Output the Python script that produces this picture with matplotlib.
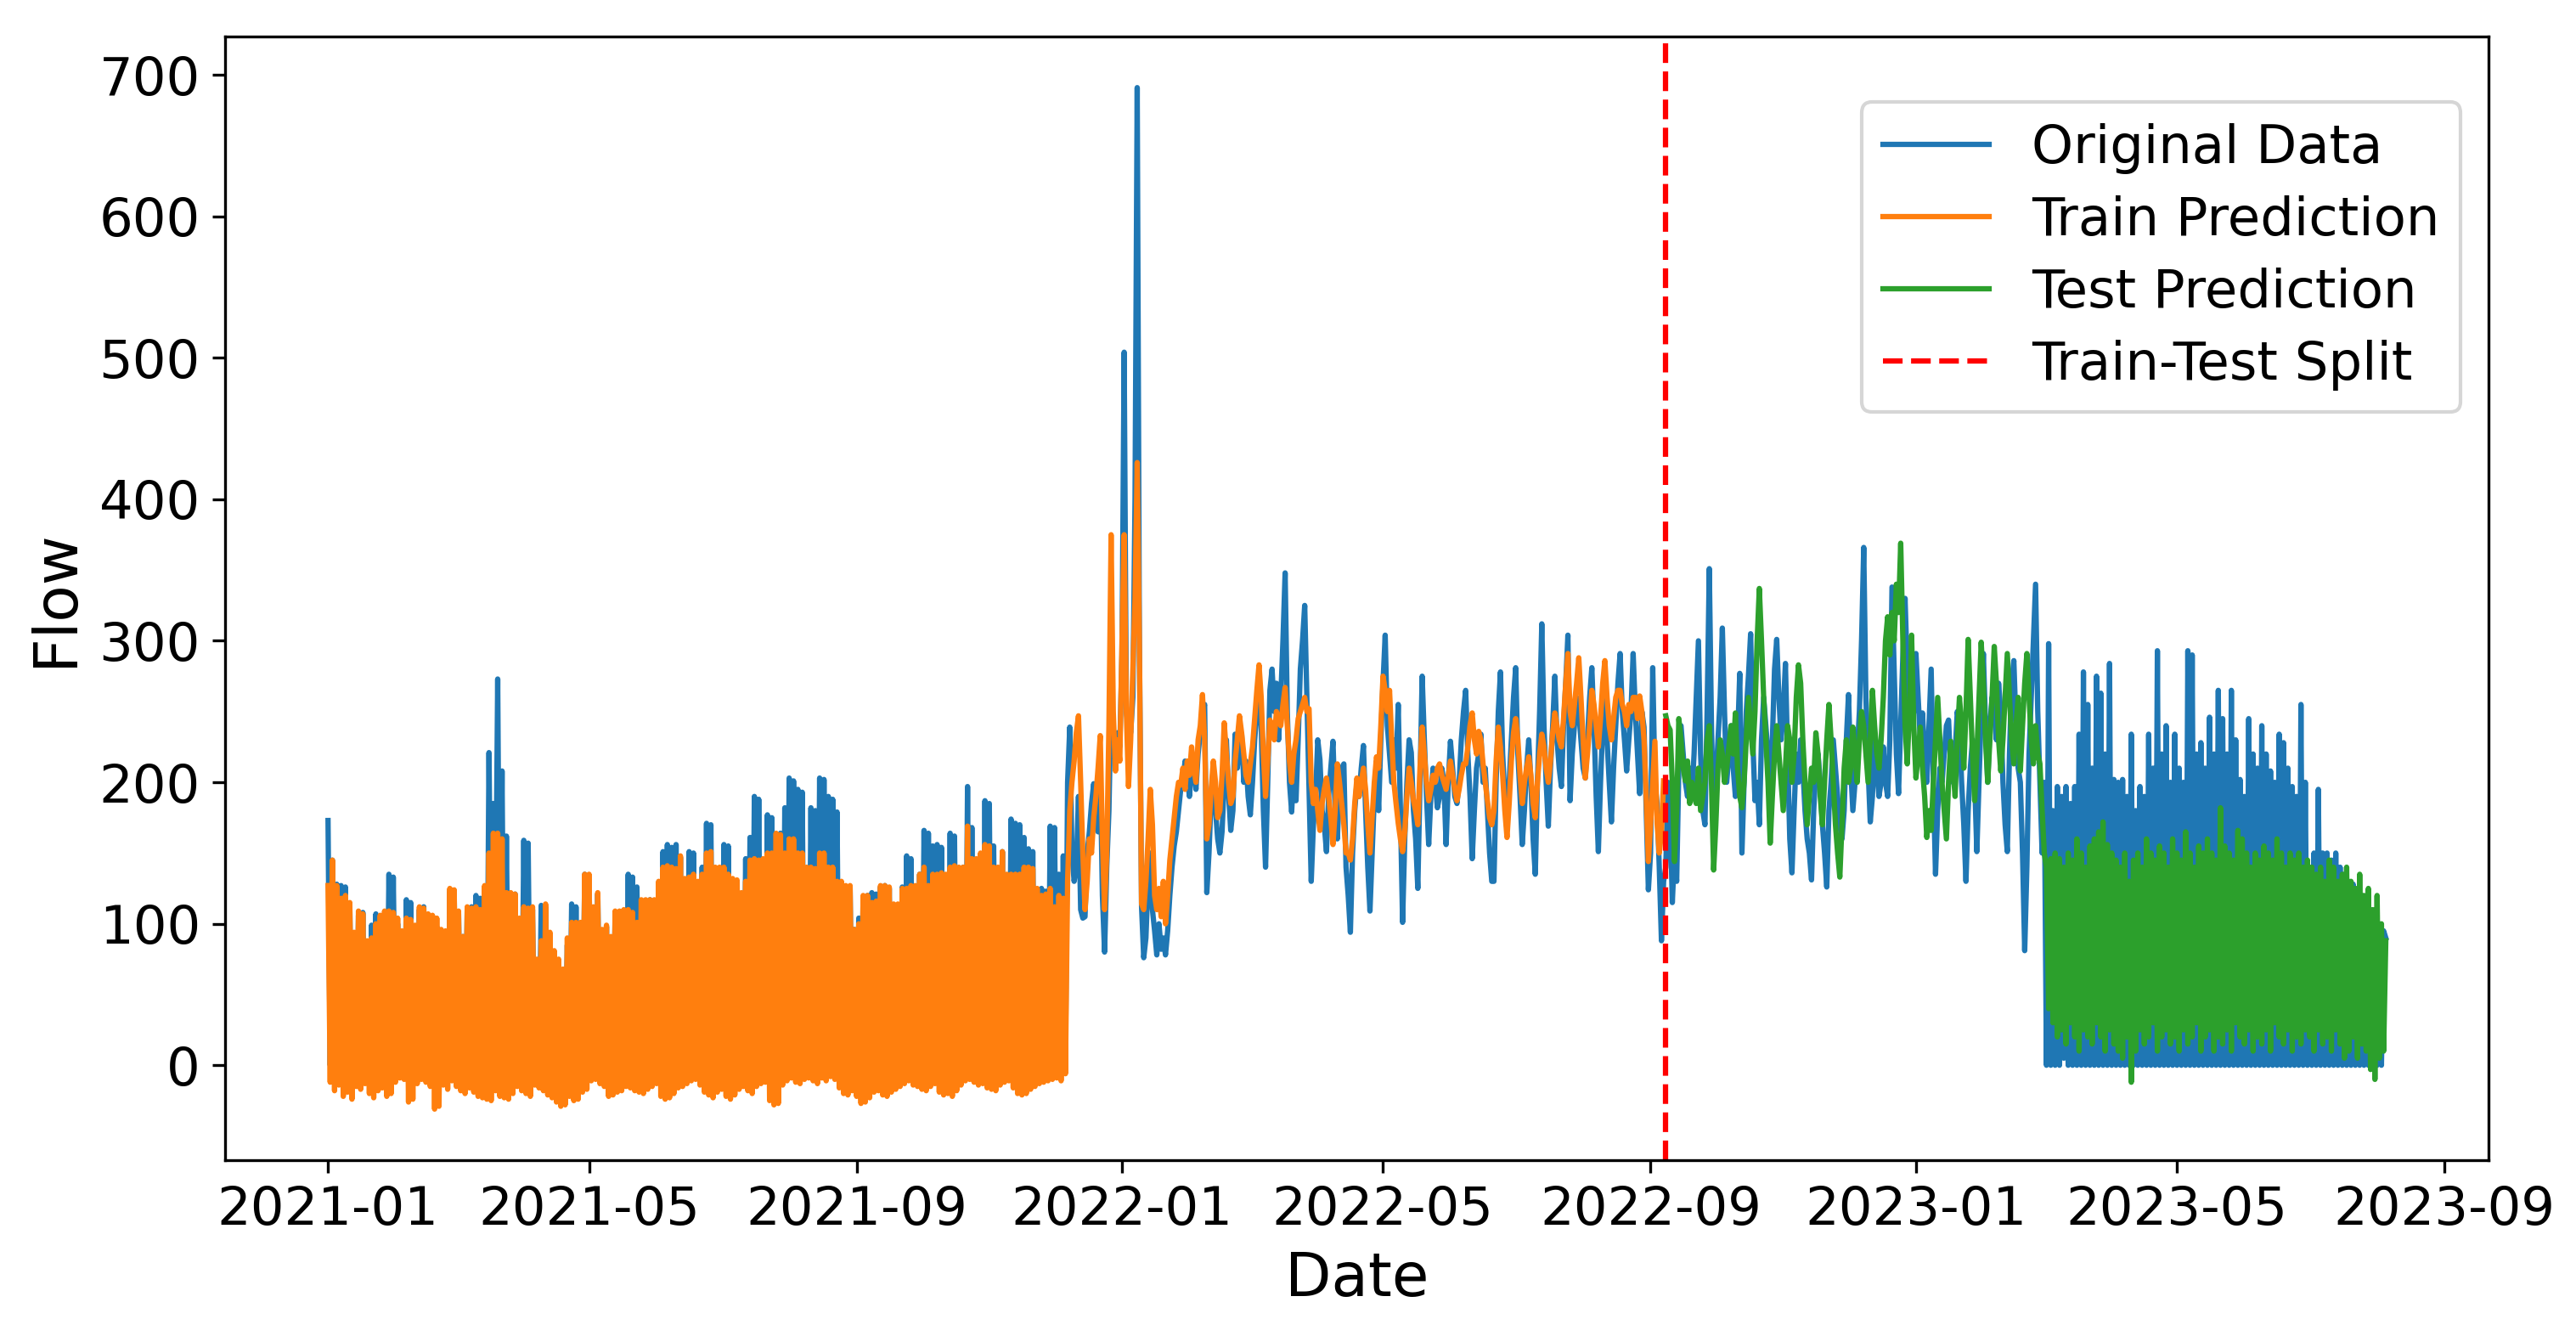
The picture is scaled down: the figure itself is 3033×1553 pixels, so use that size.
import matplotlib
matplotlib.use('Agg')
import matplotlib.pyplot as plt
import matplotlib.dates as mdates
import pandas as pd

# daily flow. 2021-01-01 .. 2021-12-06
orig_2021 = [
    173, 0, 145, 0, 128, 3, 127, 0, 126, 0, 112, 0, 92, 0, 106, 0, 108, 0, 86, 0,
    99, 0, 107, 0, 105, 0, 107, 0, 135, 0, 133, 12, 100, 0, 88, 0, 117, 0, 115, 0,
    97, 0, 110, 0, 112, 0, 105, 0, 104, 0, 98, 0, 94, 0, 90, 0, 123, 0, 121, 0,
    107, 0, 91, 0, 110, 0, 112, 0, 120, 0, 118, 0, 125, 0, 221, 60, 185, 90, 273, 40,
    208, 0, 162, 0, 120, 0, 121, 0, 102, 0, 159, 0, 157, 0, 110, 0, 74, 0, 113, 0,
    112, 8, 92, 0, 80, 0, 74, 0, 66, 0, 85, 0, 114, 0, 112, 0, 100, 0, 135, 0,
    134, 0, 110, 0, 121, 0, 95, 0, 98, 0, 90, 0, 108, 0, 107, 0, 108, 0, 135, 0,
    133, 0, 126, 0, 100, 0, 116, 0, 117, 5, 115, 0, 129, 0, 151, 0, 156, 0, 154, 0,
    156, 0, 147, 0, 131, 0, 151, 0, 150, 0, 129, 0, 140, 0, 171, 0, 170, 0, 139, 0,
    128, 0, 156, 0, 155, 0, 131, 0, 130, 0, 121, 0, 146, 0, 161, 0, 190, 0, 188, 0,
    145, 0, 177, 0, 175, 0, 163, 0, 164, 0, 182, 0, 203, 0, 201, 0, 195, 0, 193, 0,
    139, 0, 182, 0, 180, 0, 203, 0, 202, 0, 190, 0, 188, 10, 179, 0, 129, 0, 126, 0,
    125, 0, 96, 0, 104, 0, 119, 0, 120, 0, 122, 0, 121, 0, 126, 0, 127, 0, 125, 0,
    113, 0, 112, 0, 126, 0, 148, 0, 146, 0, 126, 0, 135, 0, 166, 0, 164, 6, 155, 0,
    156, 0, 154, 0, 134, 0, 164, 0, 162, 0, 139, 0, 140, 0, 197, 0, 168, 0, 145, 0,
    144, 0, 187, 0, 185, 0, 155, 0, 139, 0, 151, 0, 134, 0, 174, 0, 171, 0, 170, 0,
    161, 0, 153, 0, 151, 0, 124, 0, 125, 0, 123, 0, 169, 0, 168, 0, 135, 0, 148, 0,
]
# 2021-12-07 .. 2022-09-07
orig_2022 = [
    200, 239, 150, 130, 140, 190, 110, 104, 105, 150, 165, 185, 199, 170, 165, 210, 120, 80, 140, 180,
    260, 230, 215, 235, 225, 290, 504, 249, 240, 235, 260, 400, 691, 300, 112, 76, 90, 130, 150, 110,
    95, 78, 100, 82, 90, 78, 95, 120, 140, 155, 165, 180, 195, 200, 215, 205, 190, 210, 215, 195,
    220, 235, 250, 255, 122, 150, 190, 210, 180, 160, 150, 165, 200, 230, 192, 166, 180, 234, 210, 225,
    234, 200, 215, 190, 177, 200, 230, 250, 265, 240, 180, 140, 200, 265, 280, 250, 270, 230, 260, 300,
    348, 250, 200, 179, 210, 187, 230, 280, 300, 325, 260, 197, 130, 170, 190, 230, 216, 180, 170, 151,
    190, 210, 229, 180, 160, 195, 210, 213, 140, 120, 94, 150, 180, 200, 190, 210, 226, 180, 140, 109,
    150, 190, 215, 180, 230, 270, 304, 240, 220, 200, 230, 210, 255, 180, 101, 160, 200, 230, 221, 180,
    160, 125, 200, 275, 230, 190, 156, 190, 210, 200, 182, 190, 210, 200, 156, 200, 229, 210, 190, 185,
    200, 230, 250, 265, 220, 190, 146, 180, 210, 220, 234, 200, 210, 180, 150, 130, 130, 200, 250, 278,
    220, 190, 166, 200, 230, 260, 281, 220, 190, 156, 180, 210, 230, 200, 160, 135, 200, 250, 312, 240,
    200, 169, 210, 240, 275, 230, 210, 197, 240, 270, 304, 187, 220, 240, 260, 250, 230, 210, 203, 230,
    260, 281, 240, 190, 151, 200, 240, 260, 230, 200, 172, 210, 240, 270, 291, 250, 230, 208, 230, 250,
    291, 250, 220, 192, 250, 239, 180, 124, 150, 281, 200, 185, 140, 88, 130,
]
# 2022-09-08 .. 2023-02-28
orig_test = [
    140, 200, 180, 115, 150, 130, 210, 240, 220, 200, 190, 210, 190, 220, 260, 300, 220, 180, 170, 250,
    351, 240, 172, 200, 230, 260, 309, 250, 200, 220, 240, 210, 190, 230, 277, 150, 200, 250, 275, 305,
    230, 187, 200, 170, 230, 260, 240, 220, 200, 230, 280, 301, 260, 230, 250, 284, 220, 160, 136, 180,
    220, 200, 230, 210, 180, 160, 150, 131, 180, 210, 220, 200, 170, 150, 126, 180, 200, 230, 210, 190,
    170, 160, 180, 230, 262, 210, 180, 200, 220, 250, 300, 366, 260, 210, 172, 190, 230, 210, 190, 200,
    225, 200, 190, 230, 338, 280, 220, 192, 240, 290, 330, 280, 255, 240, 250, 291, 260, 230, 249, 220,
    200, 240, 280, 200, 135, 180, 210, 200, 220, 240, 244, 210, 200, 220, 250, 240, 200, 170, 130, 180,
    210, 230, 200, 151, 200, 250, 291, 240, 200, 240, 260, 250, 230, 270, 250, 200, 170, 151, 220, 270,
    286, 240, 210, 200, 150, 81, 140, 220, 260, 300, 340, 250, 200, 150, 200,
]
# 2023-03-01 .. 2023-08-05
orig_2023 = [
    0, 298, 0, 180, 0, 197, 0, 190, 5, 197, 0, 185, 0, 197, 0, 234, 0, 278, 0, 255,
    0, 210, 0, 275, 0, 263, 0, 220, 0, 284, 0, 202, 0, 200, 0, 202, 0, 190, 0, 234,
    0, 180, 0, 197, 0, 190, 0, 234, 0, 210, 0, 293, 0, 220, 0, 240, 0, 200, 0, 234,
    0, 210, 0, 200, 0, 293, 0, 290, 0, 220, 0, 228, 0, 210, 0, 246, 0, 220, 0, 265,
    0, 245, 0, 220, 0, 265, 0, 230, 0, 202, 0, 190, 0, 245, 0, 220, 0, 210, 0, 240,
    0, 220, 0, 208, 0, 200, 0, 234, 0, 228, 0, 210, 0, 197, 0, 190, 0, 255, 0, 200,
    0, 140, 0, 150, 0, 195, 0, 150, 0, 150, 0, 145, 0, 150, 0, 140, 0, 135, 0, 130,
    0, 128, 0, 125, 0, 120, 0, 115, 0, 110, 0, 105, 0, 100, 0, 95, 90,
]

train_2021 = [
    127, -12, 145, -18, 127, -14, 118, -22, 120, -19, 115, -24, 94, -15, 109, -17, 107, -13, 88, -20,
    90, -23, 100, -18, 106, -16, 109, -22, 109, -20, 108, -12, 104, -9, 95, -10, 104, -26, 103, -24,
    99, -13, 112, -10, 111, -12, 107, -15, 106, -31, 104, -29, 96, -14, 95, -17, 125, -11, 124, -15,
    109, -18, 91, -20, 112, -16, 111, -19, 112, -22, 110, -23, 127, -24, 150, -25, 164, -18, 164, -22,
    160, -23, 122, -24, 122, -20, 121, -15, 104, -18, 112, -20, 111, -22, 112, -14, 75, -16, 88, -18,
    114, -21, 94, -23, 81, -26, 75, -29, 68, -28, 90, -22, 101, -25, 101, -24, 101, -19, 135, -17,
    135, -11, 112, -10, 122, -13, 96, -15, 99, -22, 91, -21, 109, -19, 109, -18, 110, -15, 110, -16,
    108, -18, 101, -19, 117, -20, 117, -17, 117, -15, 117, -13, 130, -22, 140, -24, 141, -23, 140, -20,
    139, -16, 148, -15, 132, -13, 133, -11, 135, -10, 130, -14, 135, -19, 150, -21, 151, -23, 140, -19,
    140, -17, 140, -22, 135, -24, 132, -21, 131, -17, 122, -15, 130, -18, 145, -20, 146, -15, 145, -13,
    146, -12, 150, -25, 150, -28, 164, -27, 163, -14, 150, -11, 160, -9, 160, -12, 150, -13, 150, -10,
    140, -9, 140, -11, 139, -13, 150, -9, 150, -11, 140, -8, 140, -10, 130, -16, 130, -20, 127, -21,
    127, -18, 96, -22, 100, -27, 120, -26, 120, -23, 115, -19, 116, -18, 127, -21, 127, -22, 126, -19,
    114, -17, 114, -15, 125, -13, 125, -11, 127, -14, 127, -15, 135, -17, 140, -18, 127, -15, 135, -13,
    135, -19, 136, -21, 135, -20, 140, -22, 141, -18, 140, -14, 140, -11, 169, -10, 146, -12, 146, -14,
    150, -13, 156, -16, 155, -17, 140, -18, 140, -14, 151, -12, 135, -11, 135, -16, 135, -20, 135, -21,
    140, -20, 140, -17, 139, -15, 125, -13, 120, -12, 121, -11, 125, -10, 112, -9, 120, -11, 118, -6,
]
train_2022 = [
    130, 180, 200, 215, 235, 247, 200, 150, 110, 130, 160, 150, 175, 190, 210, 233, 160, 110, 150, 240,
    375, 250, 208, 230, 215, 300, 375, 250, 197, 230, 280, 330, 426, 300, 114, 110, 130, 160, 195, 170,
    120, 110, 125, 105, 130, 100, 120, 145, 160, 175, 190, 200, 198, 210, 195, 215, 205, 225, 210, 200,
    230, 240, 262, 230, 160, 170, 195, 215, 200, 175, 180, 205, 242, 220, 200, 185, 190, 215, 230, 247,
    235, 220, 205, 200, 213, 225, 245, 265, 283, 260, 220, 190, 215, 244, 240, 230, 250, 244, 240, 255,
    267, 240, 215, 200, 220, 230, 245, 250, 255, 260, 250, 252, 200, 185, 195, 180, 166, 185, 195, 203,
    190, 175, 156, 180, 213, 200, 185, 170, 150, 150, 145, 160, 185, 203, 190, 200, 210, 195, 170, 150,
    175, 200, 218, 210, 240, 275, 265, 250, 265, 230, 200, 185, 171, 160, 151, 165, 190, 210, 200, 187,
    180, 170, 210, 239, 220, 200, 187, 195, 205, 200, 210, 213, 205, 200, 195, 205, 215, 205, 195, 187,
    195, 205, 213, 213, 225, 240, 249, 230, 220, 236, 230, 213, 200, 187, 175, 170, 180, 215, 239, 225,
    205, 180, 161, 185, 215, 235, 245, 230, 205, 185, 200, 210, 218, 205, 185, 175, 200, 220, 234, 225,
    210, 200, 215, 235, 249, 240, 230, 225, 245, 270, 291, 250, 240, 255, 270, 288, 260, 230, 203, 220,
    240, 265, 255, 240, 225, 245, 270, 286, 260, 240, 230, 245, 260, 265, 265, 255, 250, 240, 255, 250,
    260, 260, 245, 261, 250, 230, 190, 144, 170, 200, 229, 171, 150, 165, 201,
]

test_2022 = [
    247, 240, 237, 200, 144, 180, 245, 230, 210, 201, 215, 185, 200, 190, 185, 210, 180, 190, 200, 230,
    240, 200, 138, 170, 210, 230, 220, 200, 210, 225, 240, 220, 249, 210, 190, 182, 200, 230, 260, 240,
    220, 250, 300, 337, 300, 260, 230, 200, 157, 190, 220, 240, 220, 200, 180, 210, 240, 230, 200, 220,
    260, 283, 270, 230, 200, 170, 190, 210, 200, 235, 220, 190, 170, 200, 230, 255, 230, 200, 170, 150,
    133, 170, 210, 230, 200, 210, 239, 220, 200, 230, 250, 240, 220, 200, 230, 265, 240, 220, 210, 230,
    260, 300, 317, 290, 320, 300, 340, 320, 369, 300, 240, 213, 250, 304, 240, 203, 220, 239, 210, 190,
    161, 180, 166, 200, 230, 260, 230, 200, 180, 160, 200, 229, 210, 190, 230, 260, 240, 210, 250, 301,
    260, 220, 187, 220, 260, 299, 270, 230, 200, 230, 260, 296, 270, 230, 208, 230, 260, 291, 260, 230,
    213, 240, 260, 208, 240, 270, 291, 260, 230, 213, 240, 220, 213, 180, 150,
]
test_2023 = [
    140, 40, 146, 30, 150, 20, 146, 25, 140, 15, 150, 30, 145, 20, 160, 10, 150, 25, 140, 20,
    155, 15, 160, 30, 165, 20, 172, 10, 156, 25, 150, 15, 145, 10, 140, 5, 150, 20, 130, -12,
    145, 10, 150, 25, 140, 15, 160, 20, 150, 30, 145, 10, 155, 20, 150, 25, 140, 15, 160, 20,
    150, 10, 145, 25, 165, 15, 150, 20, 140, 30, 155, 10, 150, 20, 160, 25, 150, 10, 145, 20,
    182, 15, 155, 25, 150, 10, 145, 30, 166, 20, 160, 15, 150, 25, 140, 10, 150, 20, 145, 15,
    155, 25, 150, 10, 145, 30, 160, 20, 150, 15, 140, 25, 150, 10, 145, 20, 150, 15, 140, 25,
    145, 20, 140, 10, 135, 25, 140, 15, 130, 20, 145, 10, 140, 25, 130, 15, 135, 5, 140, 10,
    130, 20, 125, 5, 135, 15, 120, 10, 125, -3, 110, -10, 120, 5, 100, 10, 88,
]

original = orig_2021 + orig_2022 + orig_test + orig_2023
train_pred = train_2021 + train_2022
test_pred = test_2022 + test_2023

dates = pd.date_range('2021-01-01', periods=len(original), freq='D')
train_dates = dates[:len(train_pred)]
test_dates = dates[len(train_pred):len(train_pred) + len(test_pred)]
split_date = dates[len(train_pred)]

fig = plt.figure(figsize=(3033 / 300, 1553 / 300), dpi=300)
ax = fig.add_axes([0.0874, 0.1204, 0.8787, 0.8519])

ax.plot(dates, original, label='Original Data')
ax.plot(train_dates, train_pred, label='Train Prediction')
ax.plot(test_dates, test_pred, label='Test Prediction')
ax.axvline(split_date, color='red', linestyle='--', label='Train-Test Split')

ax.xaxis.set_major_locator(mdates.MonthLocator(bymonth=(1, 5, 9)))
ax.xaxis.set_major_formatter(mdates.DateFormatter('%Y-%m'))
ax.tick_params(labelsize=15)
ax.set_xlabel('Date', fontsize=17)
ax.set_ylabel('Flow', fontsize=17)
ax.legend(fontsize=15, loc='upper right', bbox_to_anchor=(0.9876, 0.9418),
          borderaxespad=0, labelspacing=0.4)

fig.savefig('out.png', dpi=300)
